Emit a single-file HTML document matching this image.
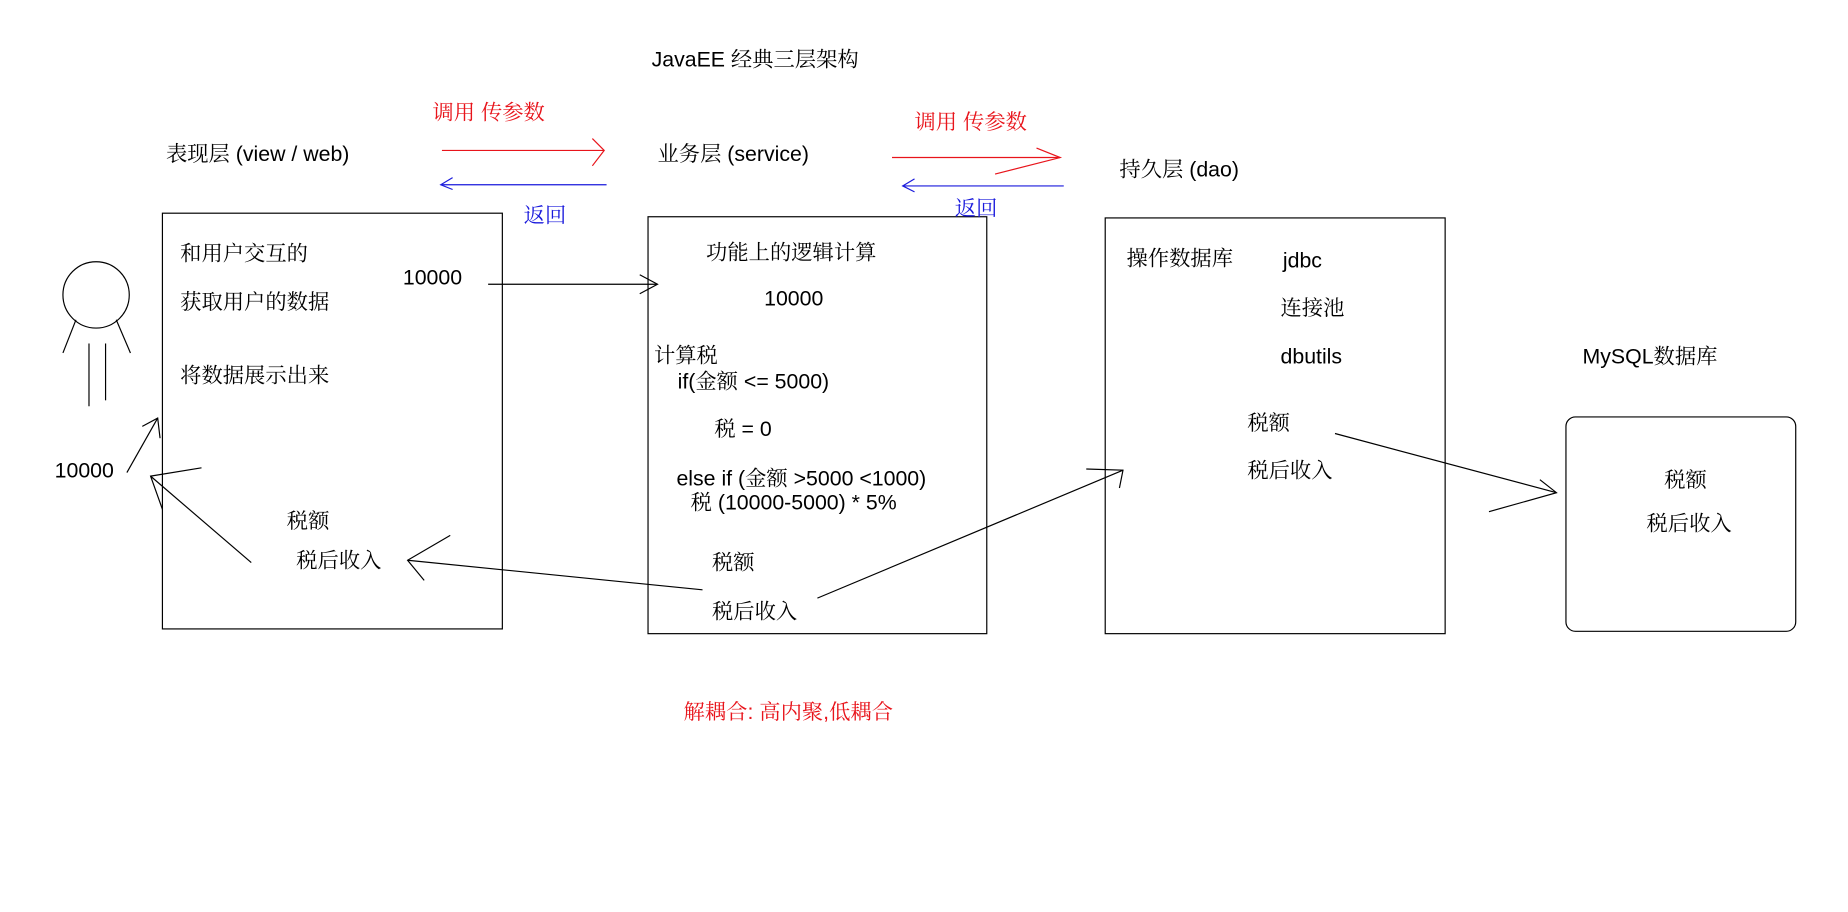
<!DOCTYPE html>
<html><head><meta charset="utf-8"><style>
html,body{margin:0;padding:0;background:#fff;}
svg{display:block;}
text{font-family:"Liberation Sans","Noto Serif CJK SC",serif;font-size:18px;fill:#000;}
.r{fill:#e8141b;}
.b{fill:#1a1adc;}
</style></head><body>
<svg width="1848" height="912" viewBox="0 0 1560 770" xmlns="http://www.w3.org/2000/svg">
<g fill="none" stroke="#000" stroke-width="1">
<rect x="137" y="180" width="287" height="351"/>
<rect x="547" y="183" width="286" height="352"/>
<rect x="933" y="184" width="287" height="351"/>
<rect x="1322" y="352" width="194" height="181" rx="8"/>
<ellipse cx="81" cy="249" rx="28" ry="28"/>
<line x1="64" y1="270" x2="53" y2="298"/>
<line x1="98" y1="270" x2="110" y2="298"/>
<line x1="75" y1="290" x2="75" y2="343"/>
<line x1="89" y1="290" x2="89" y2="338"/>
<polyline points="107,399 133,353"/><polyline points="120,360 133,353 135,370"/>
<line x1="212" y1="475" x2="127" y2="402"/><polyline points="170,395 127,402 137,430"/>
<line x1="412" y1="240" x2="555" y2="240"/><polyline points="540,232 555,240 540,248"/>
<line x1="593" y1="498" x2="344" y2="473"/><polyline points="380,452 344,473 358,490"/>
<line x1="690" y1="505" x2="948" y2="397"/><polyline points="917,396 948,397 945,412"/>
<line x1="1127" y1="366" x2="1314" y2="416"/><polyline points="1300,405 1314,416 1257,432"/>
</g>
<g fill="none" stroke="#e8141b">
<line x1="373" y1="127" x2="510" y2="127"/><polyline points="500,117 510,127 500,140"/>
<line x1="753" y1="133" x2="895" y2="133"/><polyline points="875,125 895,133 840,147"/>
</g>
<g fill="none" stroke="#1a1adc">
<line x1="372" y1="156" x2="512" y2="156"/><polyline points="382,150 372,156 382,160"/>
<line x1="762" y1="157" x2="898" y2="157"/><polyline points="772,151 762,157 772,162"/>
</g>
<text x="550" y="56">JavaEE 经典三层架构</text>
<text x="140" y="136">表现层 (view / web)</text>
<text x="555" y="136">业务层 (service)</text>
<text x="945" y="149">持久层 (dao)</text>
<text class="r" x="365" y="101">调用 传参数</text>
<text class="r" x="772" y="109">调用 传参数</text>
<text class="b" x="442" y="188">返回</text>
<text class="b" x="806" y="182">返回</text>
<text x="152" y="220">和用户交互的</text>
<text x="152" y="261">获取用户的数据</text>
<text x="152" y="323">将数据展示出来</text>
<text x="340" y="240">10000</text>
<text x="242" y="446">税额</text>
<text x="250" y="479">税后收入</text>
<text x="46" y="403">10000</text>
<text x="596" y="219">功能上的逻辑计算</text>
<text x="645" y="258">10000</text>
<text x="552" y="306">计算税</text>
<text x="572" y="328">if(金额 &lt;= 5000)</text>
<text x="603" y="368">税 = 0</text>
<text x="571" y="410">else if (金额 &gt;5000 &lt;1000)</text>
<text x="583" y="430">税 (10000-5000) * 5%</text>
<text x="601" y="481">税额</text>
<text x="601" y="522">税后收入</text>
<text x="951" y="224">操作数据库</text>
<text x="1083" y="226">jdbc</text>
<text x="1081" y="266">连接池</text>
<text x="1081" y="307">dbutils</text>
<text x="1053" y="363">税额</text>
<text x="1053" y="403">税后收入</text>
<text x="1336" y="307">MySQL数据库</text>
<text x="1405" y="411">税额</text>
<text x="1390" y="448">税后收入</text>
<text class="r" x="577" y="607">解耦合:  高内聚,低耦合</text>
</svg>
</body></html>
